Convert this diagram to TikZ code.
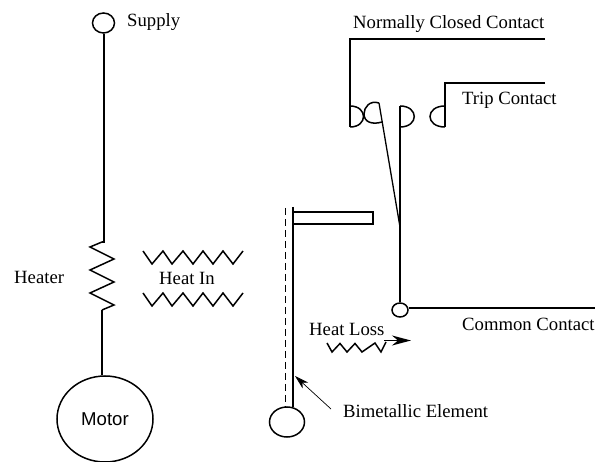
\documentclass[tikz,border=0pt]{standalone}
\usepackage{fontspec}
\setmainfont{Liberation Serif}
\newfontfamily\motorfont{Liberation Sans}
\usetikzlibrary{arrows.meta, positioning, shapes.geometric}

\begin{document}
\begin{tikzpicture}[x=1pt, y=-1pt,
    wire/.style={line width=2pt, line join=miter},
    coil/.style={line width=1.5pt, line join=miter},
    label/.style={font=\fontsize{18.7}{20}\selectfont, inner sep=0pt, anchor=west},
    terminal/.style={draw, ellipse, line width=1.5pt, inner sep=0pt, minimum width=#1},
    terminal/.default=22pt]
    \useasboundingbox (0,0) rectangle (595,462);

    % Terminals
    \node[terminal, minimum height=20pt] (supply) at (103.5,23) {};
    \node[terminal=96pt, minimum height=86pt, font=\motorfont\fontsize{18.6}{20}\selectfont] (motor) at (105,419) {Motor};
    \node[terminal=16pt, minimum height=14pt] (common) at (400,310) {};
    \node[terminal=35pt, minimum height=30pt] (bulb) at (287,422) {};

    % Junctions
    \coordinate (heatertop) at (102,242);
    \coordinate (heaterend) at (102,310);
    \coordinate (commonend) at (595,308);
    \coordinate (pivot) at (400,227);
    \coordinate (bladetop) at (379,103);
    \coordinate (elemtop) at (293,207);
    \coordinate (elemend) at (293,407);
    \coordinate (dashtop) at (285,208);
    \coordinate (dashend) at (285,407);

    % Heater and motor
    \draw[wire] (supply.south) -- (supply.south |- heatertop) -- (heatertop);
    \draw[coil] (heatertop) -- (90,247) -- (114,259) -- (90,270) -- (114,282) -- (90,293) -- (114,305) -- (heaterend);
    \draw[wire] (heaterend) -- (motor.north -| heaterend);

    % Heat in
    \draw[coil] (143,251) -- (152,264) -- (163,251) -- (172,264) -- (183,251) -- (193,264) -- (203,251) -- (213,264) -- (223,251) -- (233,264) -- (243,251);
    \draw[coil] (143,293) -- (152,306) -- (163,293) -- (172,306) -- (183,293) -- (193,306) -- (203,293) -- (213,306) -- (223,293) -- (233,306) -- (243,293);

    % Contacts
    \draw[wire] (545,39) -- (350,39) -- (350,127);
    \draw[wire] (545,83) -- (445,83) -- (445,127);
    \draw[coil] (350,106) .. controls (368,106) and (368,127) .. (350,127);
    \draw[coil] (445,106) .. controls (425,106) and (425,127) .. (445,127);
    \draw[coil] (400,106) .. controls (419,106) and (419,127) .. (400,127);
    \draw[coil] (bladetop) .. controls (370,100) and (364,107) .. (364,114) .. controls (364,122) and (372,125) .. (382,122);
    \draw[wire] (400,106) -- (common.north);
    \draw[wire] (common.east |- commonend) -- (commonend);
    \draw[line width=1.3pt] (bladetop) -- (pivot);

    % Bimetallic element
    \draw[wire] (elemtop) -- (elemend);
    \draw[line width=0.9pt, dash pattern=on 7pt off 4pt] (dashtop) -- (dashend);
    \draw[wire] (293,212) -- (373,212) -- (373,224) -- (293,224);

    % Heat loss
    \draw[coil] (327,343) -- (332,352) -- (340,343.5) -- (347,352) -- (355,343.5) -- (362,352) -- (375,343) -- (381,352) -- (386,342);
    \coordinate (lossstart) at (384,340.5);
    \coordinate (losstip) at (411,340.5);
    \draw[-{Stealth[length=19pt, width=10pt, inset=6pt]}, line width=1.5pt] (lossstart) -- (losstip);

    % Labels
    \node[label] (supplytext) at (127,22) {Supply};
    \node[label] (heatertext) at (14,277) {Heater};
    \node[label] (heatintext) at (159,278) {Heat In};
    \node[label] (heatlosstext) at (309,329) {Heat Loss};
    \node[label] (closedtext) at (353,24) {Normally Closed Contact};
    \node[label] (triptext) at (462,100) {Trip Contact};
    \node[label] (commontext) at (462,324) {Common Contact};
    \node[label] (elementtext) at (343,411) {Bimetallic Element};

    % Pointer
    \coordinate (pointertail) at (331,409);
    \coordinate (pointertip) at (295,376);
    \draw[-{Stealth[length=14pt, width=8pt, inset=4pt]}, line width=0.7pt] (pointertail) -- (pointertip);
\end{tikzpicture}
\end{document}
